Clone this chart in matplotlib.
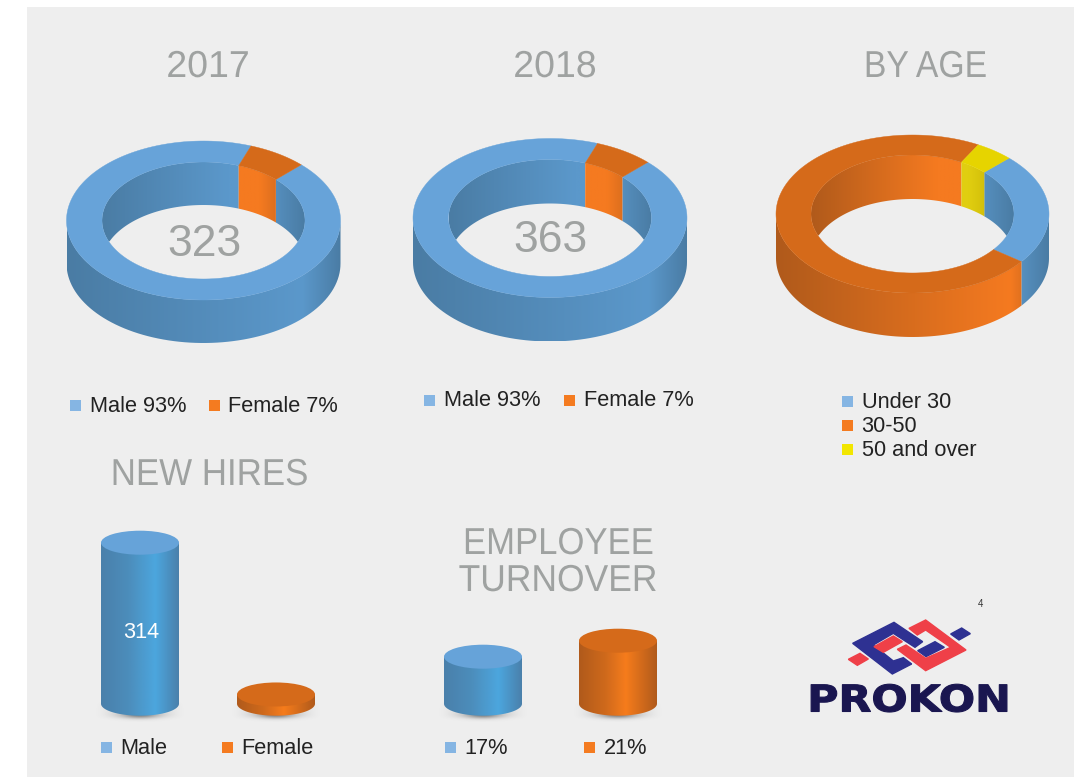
import matplotlib
matplotlib.use("Agg")
import matplotlib.pyplot as plt
import numpy as np
from matplotlib.colors import LinearSegmentedColormap
from matplotlib.patches import Polygon, Rectangle, Ellipse
from matplotlib.patheffects import AbstractPathEffect
from matplotlib.transforms import Affine2D

plt.rcParams['font.family'] = ['Liberation Sans', 'DejaVu Sans']

gender_labels = ["Male 93%", "Female 7%"]
gender_2017 = [93, 7]
gender_2018 = [93, 7]
total_2017 = "323"
total_2018 = "363"
age_labels = ["Under 30", "30-50", "50 and over"]
age_values = [22.8, 72.7, 4.5]
hires_labels = ["Male", "Female"]
hires_values = [314, 18]
turnover_labels = ["17%", "21%"]
turnover_values = [17, 21]

GREY = '#9fa2a1'
BLUE = dict(top='#67a3d9', dark='#4a7ca4', bright='#5b98cb', key='#85b5e3')
ORANGE = dict(top='#d56a1a', dark='#b05a1b', bright='#f57a20', key='#f47b20')
YELLOW = dict(top='#e6d400', dark='#bba500', bright='#e0ce10', key='#f2e600')
CYL_BLUE = dict(top='#66a3d9', stops=['#4a80ab', '#4c8dbb', '#4ca6de', '#4a80ab'], pos=[0, 0.35, 0.7, 1])
CYL_ORANGE = dict(top='#d56a1a', stops=['#b05a1b', '#d06a1c', '#f67c1c', '#b05a1b'], pos=[0, 0.35, 0.6, 1])

fig = plt.figure(figsize=(10.74, 7.77), dpi=100)
ax = fig.add_axes([0, 0, 1, 1])
ax.set_xlim(0, 1074)
ax.set_ylim(777, 0)
ax.set_autoscale_on(False)
ax.axis('off')
ax.add_patch(Rectangle((27, 7), 1047, 770, fc='#eeeeee', ec='none', zorder=0))

z = [1]


def next_z():
    z[0] += 1
    return z[0]


class Stretch(AbstractPathEffect):
    # squeeze or widen a text sideways around a display x, the source type is tracked tighter
    def __init__(self, sx, x_data, lw=0):
        super().__init__()
        self.sx = sx
        self.x_data = x_data
        self.lw = lw

    def draw_path(self, renderer, gc, tpath, affine, rgbFace=None):
        x0 = ax.transData.transform((self.x_data, 0))[0]
        t = affine + Affine2D().translate(-x0, 0).scale(self.sx, 1).translate(x0, 0)
        if self.lw:
            gc0 = renderer.new_gc()
            gc0.copy_properties(gc)
            gc0.set_linewidth(self.lw)
            gc0.set_foreground(rgbFace)
            renderer.draw_path(gc0, tpath, t, rgbFace)
            gc0.restore()
        else:
            renderer.draw_path(gc, tpath, t, rgbFace)


def gradient_fill(x0, x1, y0, y1, stops, verts, positions=None):
    if positions is None:
        positions = np.linspace(0, 1, len(stops))
    cmap = LinearSegmentedColormap.from_list('g', list(zip(positions, stops)))
    clip = Polygon(verts, closed=True, transform=ax.transData, fc='none', ec='none')
    im = ax.imshow(np.linspace(0, 1, 256).reshape(1, -1), cmap=cmap, extent=(x0, x1, y1, y0),
                   aspect='auto', zorder=next_z(), interpolation='bilinear')
    im.set_clip_path(clip)


def arc(cx, cy, rx, ry, a, b, n=80):
    t = np.radians(np.linspace(a, b, n))
    return cx + rx * np.sin(t), cy - ry * np.cos(t)


def donut(cx, cy, rx, ry, irx, iry, depth, values, colors, start):
    # angles run clockwise from the back of the ring
    fracs = np.array(values) / sum(values) * 360
    edges = start + np.concatenate([[0], np.cumsum(fracs)])
    slices = [(edges[i] % 360, edges[i] % 360 + fracs[i], colors[i]) for i in range(len(values))]

    # outer wall, front half only
    for a, b, c in slices:
        for lo, hi in [(90, 270), (450, 630)]:
            a2, b2 = max(a, lo), min(b, hi)
            if b2 <= a2:
                continue
            x, y = arc(cx, cy, rx, ry, a2, b2)
            verts = np.r_[np.c_[x, y], np.c_[x, y + depth][::-1]]
            gradient_fill(cx - rx, cx + rx, cy - ry, cy + ry + depth,
                          [c['dark'], c['bright'], c['dark']], verts, [0, 0.86, 1])

    # inner wall, back half, cut off by the front rim of the hole
    for a, b, c in slices:
        for lo, hi in [(-90, 90), (270, 450)]:
            a2, b2 = max(a, lo), min(b, hi)
            if b2 <= a2:
                continue
            x, y = arc(cx, cy, irx, iry, a2, b2)
            low = cy + (cy - y)
            verts = np.r_[np.c_[x, y], np.c_[x, np.minimum(y + depth, low)][::-1]]
            gradient_fill(cx - irx, cx + irx, cy - iry, cy + iry,
                          [c['dark'], c['bright'], c['bright'], c['dark']], verts, [0, 0.62, 0.78, 1])

    # top face
    for a, b, c in slices:
        x, y = arc(cx, cy, rx, ry, a, b, 200)
        xi, yi = arc(cx, cy, irx, iry, a, b, 200)
        ax.add_patch(Polygon(np.r_[np.c_[x, y], np.c_[xi, yi][::-1]], closed=True, fc=c['top'],
                             ec=c['top'], lw=0.3, zorder=next_z()))


def shadow(cx, y, rx):
    # soft grey pool under a cylinder, dark in the middle with a faint haze round it
    gx, gy = np.meshgrid(np.linspace(-1, 1, 200), np.linspace(-1, 1, 60))
    core = np.exp(-(gx ** 2 * 7 + ((gy - 0.55) * 4.5) ** 2)) * 0.6
    haze = np.exp(-(gx ** 6 * 5 + ((gy - 0.2) * 1.5) ** 4 * 3)) * 0.1
    rgba = np.zeros((60, 200, 4))
    rgba[..., :3] = 0.3
    rgba[..., 3] = np.clip(core + haze, 0, 1)
    ax.imshow(rgba, extent=(cx - rx * 1.2, cx + rx * 1.2, y + 12, y - 18), aspect='auto',
              zorder=next_z(), interpolation='bilinear')


def cylinder(cx, base, height, style, rx=39, ry=12):
    shadow(cx, base + 6, rx)
    top = base - height
    x, y = arc(cx, base, rx, ry, 90, 270)
    verts = np.r_[[[cx + rx, top]], np.c_[x, y], [[cx - rx, top]]]
    gradient_fill(cx - rx, cx + rx, top, base + ry, style['stops'], verts, style['pos'])
    ax.add_patch(Ellipse((cx, top), rx * 2, ry * 2, fc=style['top'], ec='none', zorder=next_z()))


def key(x, y, color, label):
    ax.add_patch(Rectangle((x, y - 5.5), 11, 11, fc=color, ec='none', zorder=next_z()))
    ax.text(x + 19.5, y + 1, label, fontsize=15.65, color='#222222', ha='left', va='center', zorder=next_z())


def title(x, y, s, sx=1.0):
    ax.text(x, y + 2, s, fontsize=27, color=GREY, ha='center', va='center', zorder=next_z(),
            path_effects=[Stretch(sx, x)])


# donuts
gender_colors = [BLUE, ORANGE]
donut(203.5, 220.5, 137, 79.5, 101.5, 58.5, 43, gender_2017, gender_colors, 45.5)
donut(550, 218, 137, 79.5, 101.5, 58.5, 44, gender_2018, gender_colors, 45.5)
donut(912.5, 214, 136.5, 79, 101.5, 59, 44, age_values, [BLUE, ORANGE, YELLOW], 45)

title(208, 65, "2017")
title(555, 65, "2018")
title(925.5, 65, "BY AGE", 0.9)
title(209.5, 473, "NEW HIRES", 0.93)
title(558.5, 542, "EMPLOYEE", 0.925)
title(558, 579, "TURNOVER", 0.945)

ax.text(204, 245, total_2017, fontsize=32, color=GREY, ha='center', va='center', zorder=next_z())
ax.text(550, 240, total_2018, fontsize=32, color=GREY, ha='center', va='center', zorder=next_z())

key(70, 405, BLUE['key'], gender_labels[0])
key(209, 405, ORANGE['key'], gender_labels[1])
key(424, 400, BLUE['key'], gender_labels[0])
key(564, 400, ORANGE['key'], gender_labels[1])
for i, (lab, col) in enumerate(zip(age_labels, [BLUE, ORANGE, YELLOW])):
    key(842, 401 + i * 24, col['key'], lab)

# cylinders
base_y = 703.7
hires_scale = 161 / hires_values[0]
cylinder(140, base_y, hires_values[0] * hires_scale, CYL_BLUE)
cylinder(276, base_y, hires_values[1] * hires_scale, CYL_ORANGE)
ax.text(141, 632.5, str(hires_values[0]), fontsize=15.6, color='white', ha='center', va='center', zorder=next_z())

# turnover axis does not start at zero
turnover_scale = 4.0
turnover_floor = 5.25
cylinder(483, base_y, (turnover_values[0] - turnover_floor) * turnover_scale, CYL_BLUE)
cylinder(618, base_y, (turnover_values[1] - turnover_floor) * turnover_scale, CYL_ORANGE)

key(101, 747, BLUE['key'], hires_labels[0])
key(222, 747, ORANGE['key'], hires_labels[1])
key(445, 747, BLUE['key'], turnover_labels[0])
key(584, 747, ORANGE['key'], turnover_labels[1])

# logo, outlined in 3x zoom pixels
logo_blue = [
    [(342, 97), (428, 155), (405, 172), (340, 130), (280, 165), (340, 213), (370, 203), (395, 222), (337, 252), (218, 160)],
    [(413, 182), (465, 155), (493, 172), (438, 200)],
    [(512, 132), (545, 114), (571, 131), (537, 150)],
]
logo_red = [
    [(437, 90), (558, 180), (437, 242), (352, 178), (378, 165), (437, 205), (512, 172), (437, 120), (412, 135), (387, 115)],
    [(282, 170), (340, 138), (367, 155), (310, 187)],
    [(205, 208), (240, 190), (265, 207), (232, 226)],
]
for shapes, col in [(logo_blue, '#2e3192'), (logo_red, '#ef4048')]:
    for s in shapes:
        pts = np.array(s) / 3 + [780, 590]
        ax.add_patch(Polygon(pts, closed=True, fc=col, ec=col, lw=1.0, zorder=next_z()))
ax.text(909, 701, "PROKON", fontsize=26.5, fontweight='bold', family='DejaVu Sans', color='#1a1650',
        ha='center', va='center', zorder=next_z(), path_effects=[Stretch(1.16, 909, lw=0.8)])
ax.text(980.5, 604, "4", fontsize=7, color='#333333', ha='center', va='center', zorder=next_z())

fig.savefig('out.png', dpi=100, facecolor='white')
